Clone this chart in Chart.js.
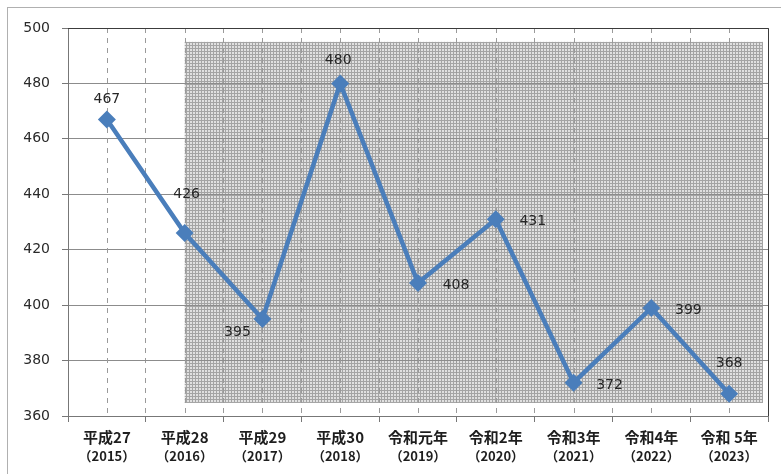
<!DOCTYPE html>
<html>
<head>
<meta charset="utf-8">
<script src="https://cdn.jsdelivr.net/npm/chart.js@4/dist/chart.umd.min.js"></script>
<style>
  html, body { margin: 0; padding: 0; background: #fff; }
  canvas { display: block; }
</style>
</head>
<body>
<canvas id="lineChart" width="781" height="474"></canvas>
<script>
const eraLabels = ["平成27", "平成28", "平成29", "平成30", "令和元年", "令和2年", "令和3年", "令和4年", "令和 5年"];
const yearLabels = ["（2015）", "（2016）", "（2017）", "（2018）", "（2019）", "（2020）", "（2021）", "（2022）", "（2023）"];
const counts = [467, 426, 395, 480, 408, 431, 372, 399, 368];

// where each value label sits relative to its marker
const labelOffsets = [[0, -20], [2, -39], [-25, 13], [-2, -23], [38, 2], [37, 2], [36, 3], [37, 2], [0, -30]];

const lineColor = "#4a7ebb";

// dotted screen tile for the shaded block
function makeScreen() {
  const c = document.createElement("canvas");
  c.width = 3; c.height = 3;
  const g = c.getContext("2d");
  g.fillStyle = "#e0e0e0";
  g.fillRect(0, 0, 3, 3);
  g.fillStyle = "#a4a4a4";
  g.fillRect(0, 0, 3, 1);
  g.fillRect(0, 0, 1, 3);
  return c;
}

const backdrop = {
  id: "backdrop",
  beforeDraw(chart) {
    const { ctx, chartArea, scales } = chart;
    ctx.save();
    // outer frame
    ctx.strokeStyle = "#b0b0b0";
    ctx.lineWidth = 1;
    ctx.strokeRect(7.5, 7.5, 790, 490);
    // shaded block from 平成28 onward
    const x0 = scales.x.getPixelForValue(1);
    const x1 = chartArea.right - 5;
    const y0 = scales.y.getPixelForValue(495);
    const y1 = scales.y.getPixelForValue(364.7);
    ctx.fillStyle = ctx.createPattern(makeScreen(), "repeat");
    ctx.fillRect(x0, y0, x1 - x0, y1 - y0);
    ctx.restore();
  },
  beforeDatasetsDraw(chart) {
    const { ctx, chartArea, scales } = chart;
    ctx.save();
    // dashed lines through category centres
    ctx.strokeStyle = "#9a9a9a";
    ctx.lineWidth = 1;
    ctx.setLineDash([5, 5]);
    counts.forEach((v, i) => {
      const x = Math.round(scales.x.getPixelForValue(i)) + 0.5;
      ctx.beginPath();
      ctx.moveTo(x, chartArea.top);
      ctx.lineTo(x, chartArea.bottom);
      ctx.stroke();
    });
    // plot frame on top and right, axis lines
    ctx.setLineDash([]);
    ctx.strokeStyle = "#3c3c3c";
    ctx.beginPath();
    ctx.moveTo(chartArea.left, chartArea.top + 0.5);
    ctx.lineTo(chartArea.right + 0.5, chartArea.top + 0.5);
    ctx.lineTo(chartArea.right + 0.5, chartArea.bottom);
    ctx.stroke();
    ctx.strokeStyle = "#777";
    ctx.beginPath();
    ctx.moveTo(chartArea.left, chartArea.bottom + 0.5);
    ctx.lineTo(chartArea.right + 0.5, chartArea.bottom + 0.5);
    ctx.stroke();
    ctx.restore();
  },
  afterDatasetsDraw(chart) {
    const { ctx } = chart;
    const meta = chart.getDatasetMeta(0);
    ctx.save();
    ctx.font = '14px "DejaVu Sans"';
    ctx.fillStyle = "#262626";
    ctx.textAlign = "center";
    ctx.textBaseline = "middle";
    meta.data.forEach((pt, i) => {
      const [dx, dy] = labelOffsets[i];
      ctx.fillText(String(counts[i]), pt.x + dx, pt.y + dy);
    });
    ctx.restore();
  },
  afterDraw(chart) {
    const { ctx, scales } = chart;
    ctx.save();
    ctx.fillStyle = "#1e1e1e";
    ctx.textAlign = "center";
    ctx.textBaseline = "middle";
    eraLabels.forEach((lab, i) => {
      const x = scales.x.getPixelForValue(i);
      ctx.font = 'bold 15px "Noto Sans CJK JP"';
      ctx.fillText(lab, x, 437);
      ctx.font = 'bold 13px "Noto Sans CJK JP"';
      ctx.fillText(yearLabels[i], x, 456);
    });
    ctx.restore();
  }
};

const config = {
  type: "line",
  data: {
    labels: eraLabels,
    datasets: [
      {
        data: counts,
        borderColor: lineColor,
        backgroundColor: lineColor,
        borderWidth: 4.5,
        pointStyle: "rectRot",
        pointRadius: 9,
        pointBorderWidth: 0,
        tension: 0,
      },
    ],
  },
  options: {
    responsive: false,
    animation: false,
    layout: { padding: { left: 0, right: 13, top: 28, bottom: 0 } },
    plugins: {
      legend: { display: false },
      tooltip: { enabled: false },
    },
    scales: {
      x: {
        offset: true,
        grid: {
          offset: true,
          color: "#9a9a9a",
          tickColor: "#777",
          tickLength: 6,
          tickBorderDash: [],
        },
        border: { color: "#777", dash: [5, 5] },
        ticks: { callback: () => "" },
        afterFit(scale) { scale.height = 58; },
      },
      y: {
        min: 360,
        max: 500,
        ticks: {
          stepSize: 20,
          padding: 12,
          color: "#2a2a2a",
          font: { family: "DejaVu Sans", size: 14 },
        },
        grid: {
          color: "#8c8c8c",
          tickColor: "#777",
          tickLength: 6,
        },
        border: { color: "#777" },
        afterFit(scale) { scale.width = 68; },
      },
    },
  },
  plugins: [backdrop],
};

const canvas = document.getElementById("lineChart");
if (canvas) {
  new Chart(canvas.getContext("2d"), config);
} else {
  console.error("canvas not found");
}
</script>
</body>
</html>
